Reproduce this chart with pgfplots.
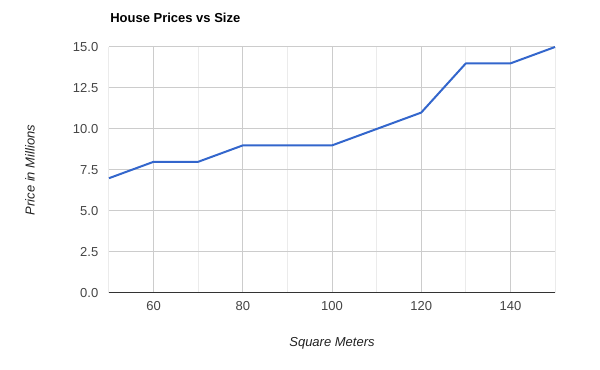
\documentclass[border=0pt]{standalone}
\usepackage{fontspec}
\setmainfont{Liberation Sans}
\usepackage{pgfplots}
\pgfplotsset{compat=1.18}
\definecolor{gline}{HTML}{3366CC}
\definecolor{majg}{HTML}{CCCCCC}
\definecolor{ming}{HTML}{EBEBEB}
\definecolor{tick}{HTML}{444444}
\definecolor{ttl}{HTML}{222222}
\begin{document}
\begin{tikzpicture}[x=0.75pt,y=0.75pt]
\path[use as bounding box] (-109,-77) rectangle (491,293);
\begin{axis}[
  at={(0,0)}, anchor=south west,
  scale only axis, width=334.5pt, height=184.5pt,
  xmin=50, xmax=150, ymin=0, ymax=15,
  xtick={60,80,100,120,140},
  minor xtick={50,70,90,110,130,150},
  ytick={0,2.5,5,7.5,10,12.5,15},
  grid=both,
  major grid style={majg, line width=0.75pt},
  minor grid style={ming, line width=0.75pt},
  axis line style={draw=none},
  tick style={draw=none},
  /pgf/number format/assume math mode=true,
  yticklabel style={/pgf/number format/fixed, /pgf/number format/fixed zerofill, /pgf/number format/precision=1, xshift=-4.5pt},
  xticklabel style={/pgf/number format/fixed, /pgf/number format/precision=0, yshift=-3pt},
  ticklabel style={font=\fontsize{9.75pt}{11pt}\selectfont, text=tick},
  clip=false,
]
\draw[color=black!80, line width=0.75pt] (axis cs:50,0) -- (axis cs:150,0);
\addplot[gline, line width=1.5pt, line join=round] coordinates {
(50,7) (60,8) (70,8) (80,9) (90,9) (100,9) (110,10) (120,11) (130,14) (140,14) (150,15)
};
\end{axis}
\node[anchor=base west, inner sep=0pt, font=\bfseries\fontsize{9.75pt}{11pt}\selectfont, text=black] at (1,270) {House Prices vs Size};
\node[anchor=center, font=\itshape\fontsize{9.75pt}{11pt}\selectfont, text=ttl] at (223,-50) {Square Meters};
\node[anchor=center, rotate=90, font=\itshape\fontsize{9.75pt}{11pt}\selectfont, text=ttl] at (-79,123) {Price in Millions};
\end{tikzpicture}
\end{document}
